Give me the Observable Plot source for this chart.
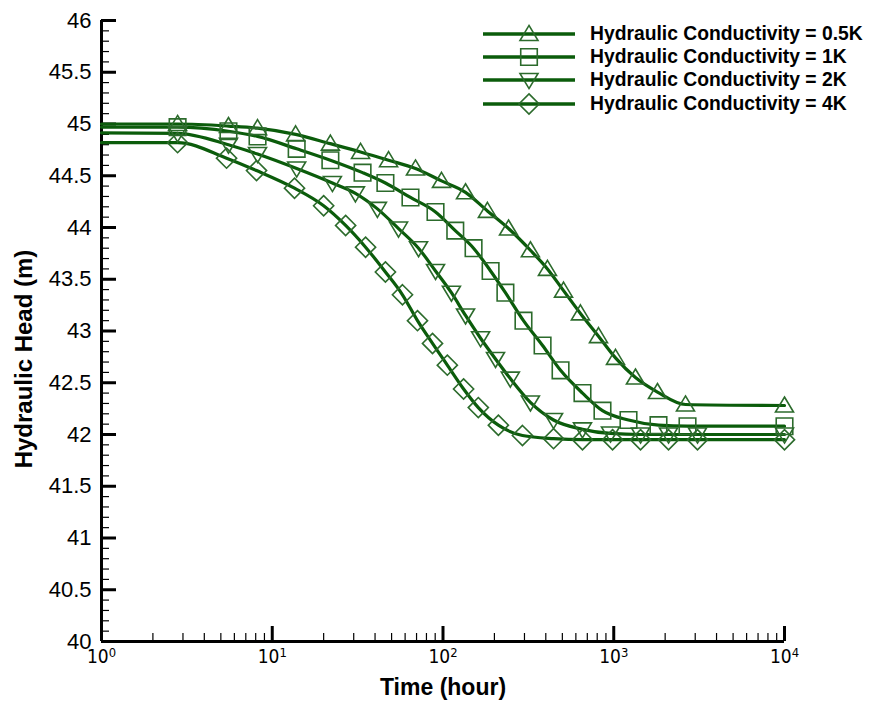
<!DOCTYPE html>
<html>
<head>
<meta charset="utf-8">
<script src="https://cdn.jsdelivr.net/npm/d3@7"></script>
<script src="https://cdn.jsdelivr.net/npm/@observablehq/plot@0.6"></script>
<style>
  html, body { margin: 0; padding: 0; background: #fff; }
  #wrap { position: relative; width: 875px; height: 704px; }
  #chart svg { display: block; }
  #chart [aria-label="y-axis tick label"] { font-family: "Liberation Sans", Arial, sans-serif; font-size: 22px; }
  #chart [aria-label="x-axis tick label"] { font-family: "Liberation Sans Narrow", "DejaVu Sans Condensed", "Liberation Sans", sans-serif; font-size: 19px; }
  #chart [aria-label="x-axis label"] { font-family: "Liberation Sans", Arial, sans-serif; font-size: 23px; font-weight: bold; }
  #legend { position: absolute; left: 483px; top: 22px; width: 392px; white-space: nowrap; font-family: "Liberation Sans", Arial, sans-serif; font-weight: bold; font-size: 19.3px; color: #000; }
  #legend .row { display: flex; align-items: center; height: 23.4px; white-space: nowrap; }
  #legend svg { display: block; flex: none; margin-right: 15px; overflow: visible; }
  #legend span { flex: none; white-space: nowrap; }
</style>
</head>
<body>
<div id="wrap">
  <div id="chart"></div>
  <div id="legend"></div>
</div>
<script>
// ---------- data ----------
const seriesNames = [
  "Hydraulic Conductivity = 0.5K",
  "Hydraulic Conductivity = 1K",
  "Hydraulic Conductivity = 2K",
  "Hydraulic Conductivity = 4K"
];
const xTitle = "Time (hour)";
const yTitle = "Hydraulic Head (m)";

// Time (hour) and Hydraulic Head (m); first point (t = 1) starts the curve, the rest carry markers
const time05 = [1, 2.79, 5.54, 8.2, 13.7, 21.9, 32.9, 48, 69, 98, 135.5, 182, 242, 325, 409, 508, 638, 814, 1024, 1340, 1803, 2631, 10000];
const head05 = [45.0, 45.0, 44.98, 44.96, 44.90, 44.81, 44.73, 44.65, 44.57, 44.45, 44.34, 44.16, 43.99, 43.78, 43.60, 43.39, 43.17, 42.95, 42.74, 42.55, 42.41, 42.29, 42.28];

const time1 = [1, 2.79, 5.54, 8.2, 13.9, 21.9, 33.8, 46, 64.5, 90.4, 118, 151, 190, 232, 296, 383, 488, 656, 859, 1220, 1828, 2704, 10000];
const head1 = [44.97, 44.97, 44.93, 44.88, 44.76, 44.65, 44.53, 44.43, 44.29, 44.15, 43.97, 43.80, 43.58, 43.37, 43.10, 42.86, 42.62, 42.40, 42.23, 42.14, 42.09, 42.08, 42.08];

const time2 = [1, 2.79, 5.54, 8.2, 13.9, 22.5, 30.7, 41.3, 54.9, 71.9, 90.4, 112, 135.5, 166, 203, 248, 325, 444, 656, 957, 1435, 2093, 3093, 10000];
const head2 = [44.915, 44.91, 44.80, 44.71, 44.57, 44.43, 44.33, 44.18, 43.99, 43.80, 43.58, 43.37, 43.15, 42.93, 42.73, 42.54, 42.31, 42.14, 42.05, 42.01, 42.0, 42.0, 42.0, 42.0];

const time4 = [1, 2.79, 5.40, 8.09, 13.5, 20.0, 26.9, 35.2, 46, 57.9, 70.9, 86.8, 106, 132, 161, 211, 292, 444, 656, 984, 1435, 2093, 3093, 10000];
const head4 = [44.82, 44.82, 44.67, 44.55, 44.38, 44.21, 44.02, 43.81, 43.57, 43.35, 43.10, 42.88, 42.67, 42.44, 42.26, 42.09, 41.99, 41.96, 41.95, 41.95, 41.95, 41.95, 41.95, 41.95];

const yMajorTicks = [40, 40.5, 41, 41.5, 42, 42.5, 43, 43.5, 44, 44.5, 45, 45.5, 46];
const xMajorTicks = [1, 10, 100, 1000, 10000];

// ---------- styles ----------
const lineColor = "#0b5c0b";
const markColor = "#2c6b2c";

// custom hollow symbols (size = pi r^2)
const symTriUp = { draw(c, size) { const r = Math.sqrt(size / Math.PI); c.moveTo(0, -0.95 * r); c.lineTo(r, 0.72 * r); c.lineTo(-r, 0.72 * r); c.closePath(); } };
const symTriDown = { draw(c, size) { const r = Math.sqrt(size / Math.PI); c.moveTo(0, 0.95 * r); c.lineTo(r, -0.72 * r); c.lineTo(-r, -0.72 * r); c.closePath(); } };
const symSquare = { draw(c, size) { const r = Math.sqrt(size / Math.PI); const s = 0.92 * r; c.moveTo(-s, -s); c.lineTo(s, -s); c.lineTo(s, s); c.lineTo(-s, s); c.closePath(); } };
const symDiamond = { draw(c, size) { const r = Math.sqrt(size / Math.PI); const s = 1.12 * r; c.moveTo(0, -s); c.lineTo(s, 0); c.lineTo(0, s); c.lineTo(-s, 0); c.closePath(); } };
const symbols = [symTriUp, symSquare, symTriDown, symDiamond];

const seriesData = [[time05, head05], [time1, head1], [time2, head2], [time4, head4]].map(([t, h], k) =>
  t.map((ti, i) => ({ t: ti, h: h[i], s: seriesNames[k], k, i }))
);

const minorY = d3.range(400, 461).filter(v => v % 5 !== 0).map(v => v / 10);
const minorX = [];
for (const p of [1, 10, 100, 1000]) for (let m = 2; m <= 9; m++) minorX.push(m * p);

const marks = [
  // axis tick labels and titles
  Plot.axisY(yMajorTicks, { tickSize: 0, tickPadding: 10, tickFormat: d => String(d), label: null }),
  Plot.axisX(xMajorTicks, { tickSize: 0, tickPadding: 8, tickFormat: d => "10^" + Math.round(Math.log10(d)), label: xTitle, labelAnchor: "center", labelArrow: "none", labelOffset: 53 }),
  Plot.text([yTitle], { text: d => d, frameAnchor: "left", textAnchor: "middle", rotate: -90, dx: -77, dy: 28, fontSize: 24, fontWeight: "bold", fontFamily: "Liberation Sans, Arial, sans-serif", fill: "#000" }),
  // inward ticks
  Plot.axisY(yMajorTicks, { tickSize: -15, strokeWidth: 3, fill: "none", label: null }),
  Plot.axisY(minorY, { tickSize: -8, strokeWidth: 1.2, fill: "none", label: null }),
  Plot.axisX(xMajorTicks, { tickSize: -15, strokeWidth: 3, fill: "none", label: null }),
  Plot.axisX(minorX, { tickSize: -8, strokeWidth: 1.2, fill: "none", label: null }),
  // axis lines
  Plot.ruleX([1], { stroke: "#000", strokeWidth: 3 }),
  Plot.ruleY([40], { stroke: "#000", strokeWidth: 3 })
];

seriesData.forEach((d, k) => {
  marks.push(Plot.line(d, { x: "t", y: "h", stroke: lineColor, strokeWidth: 3.2, curve: "monotone-x" }));
});
seriesData.forEach((d, k) => {
  marks.push(Plot.dot(d.slice(1), { x: "t", y: "h", r: 9, symbol: () => symbols[k], stroke: markColor, strokeWidth: 1.6, fill: "none" }));
});

const chart = Plot.plot({
  width: 875,
  height: 704,
  marginLeft: 101,
  marginRight: 91,
  marginTop: 20,
  marginBottom: 63,
  style: { background: "#fff", color: "#000" },
  x: { type: "log", domain: [1, 10000] },
  y: { type: "linear", domain: [40, 46] },
  symbol: { type: "identity" },
  marks
});

document.getElementById("chart").appendChild(chart);

// superscript exponents for the log-axis tick labels
d3.select(chart).selectAll('[aria-label="x-axis tick label"] text').each(function () {
  const txt = this.textContent;
  const m = /^10\^(-?\d+)$/.exec(txt);
  if (!m) return;
  const sel = d3.select(this);
  sel.text(null);
  sel.append("tspan").text("10");
  sel.append("tspan").attr("dy", "-0.5em").attr("font-size", "0.68em").text(m[1]);
});

// ---------- legend ----------
const legend = d3.select("#legend");
seriesNames.forEach((name, k) => {
  const row = legend.append("div").attr("class", "row");
  const svg = row.append("svg").attr("width", 92).attr("height", 22);
  svg.append("line").attr("x1", 0).attr("x2", 92).attr("y1", 11).attr("y2", 11)
    .attr("stroke", lineColor).attr("stroke-width", 3.5);
  const path = d3.path();
  symbols[k].draw(path, 81 * Math.PI);
  svg.append("path").attr("d", path.toString()).attr("transform", "translate(46,11)")
    .attr("fill", "none").attr("stroke", markColor).attr("stroke-width", 1.6);
  row.append("span").text(name);
});
</script>
</body>
</html>
